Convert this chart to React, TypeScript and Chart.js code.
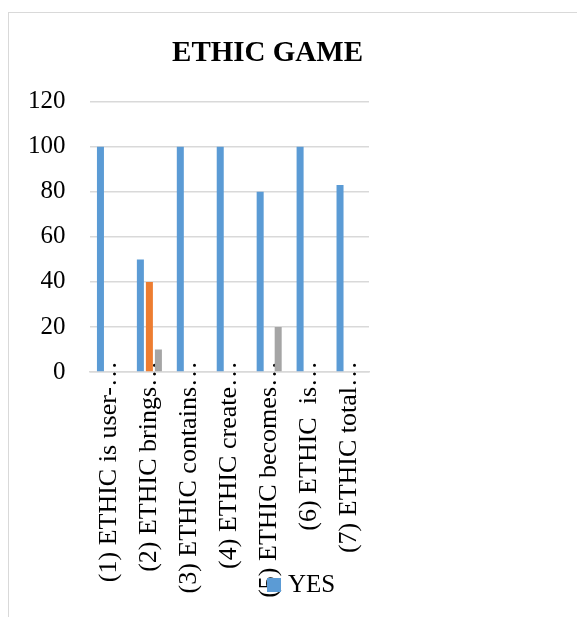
import React, { useEffect, useRef } from "react";
import { Chart, registerables } from "chart.js";

Chart.register(...registerables);

const categories = [
  "(1) ETHIC is user-…",
  "(2) ETHIC brings…",
  "(3) ETHIC contains…",
  "(4) ETHIC create…",
  "(5) ETHIC becomes…",
  "(6) ETHIC  is…",
  "(7) ETHIC total…",
];
const seriesNames = ["YES", "NO", "NOT SURE"];
const yesValues = [100, 50, 100, 100, 80, 100, 83];
const noValues = [0, 40, 0, 0, 0, 0, 0];
const notSureValues = [0, 10, 0, 0, 20, 0, 0];
const seriesColors = ["#5B9BD5", "#ED7D31", "#A5A5A5"];
const yTicks = [0, 20, 40, 60, 80, 100, 120];

const FONT = '"Liberation Serif", "Times New Roman", serif';

const excelLegend = {
  id: "excelLegend",
  afterDraw(chart: any) {
    const ds = chart.data.datasets[0];
    const ctx = chart.ctx;
    const area = chart.chartArea;
    const size = 14;
    const x = area.right - 102;
    const y = chart.height - 32;
    ctx.save();
    ctx.fillStyle = ds.backgroundColor;
    ctx.fillRect(x, y - size / 2, size, size);
    ctx.fillStyle = "#000";
    ctx.font = `25px ${FONT}`;
    ctx.textBaseline = "middle";
    ctx.textAlign = "left";
    ctx.fillText(ds.label, x + size + 7, y);
    ctx.restore();
  },
};

export default function App() {
  const ref = useRef<HTMLCanvasElement>(null);
  useEffect(() => {
    if (!ref.current) return;
    const values = [yesValues, noValues, notSureValues];
    const chart = new Chart(ref.current, {
      type: "bar",
      data: {
        labels: categories,
        datasets: seriesNames.map((name, i) => ({
          label: name,
          data: values[i],
          backgroundColor: seriesColors[i],
          borderWidth: 0,
          categoryPercentage: 0.677,
          barPercentage: 0.778,
          yAxisID: "y",
        })),
      },
      options: {
        animation: false,
        responsive: true,
        maintainAspectRatio: false,
        layout: { padding: { left: 0, right: 0, top: 0, bottom: 32 } },
        plugins: {
          legend: { display: false },
          tooltip: { enabled: false },
          title: {
            display: true,
            text: "ETHIC GAME",
            color: "#000",
            font: { family: FONT, size: 29, weight: "bold" },
            padding: { top: 23, bottom: 31 },
          },
        },
        scales: {
          x: {
            grid: { display: false, drawTicks: false },
            border: { display: true, color: "#d9d9d9", width: 1.5 },
            ticks: {
              color: "#000",
              font: { family: FONT, size: 26 },
              maxRotation: 90,
              minRotation: 90,
              autoSkip: false,
              padding: -11,
            },
            afterFit: (scale: any) => {
              scale.height = 213;
              // let tick labels extend beyond the axis box, as in the original
              scale._computeLabelArea = () => undefined;
            },
          },
          y: {
            position: "left",
            min: 0,
            max: 120,
            afterBuildTicks: (scale: any) => {
              scale.ticks = yTicks.map((v) => ({ value: v }));
            },
            grid: { color: "#d9d9d9", lineWidth: 1.5, drawTicks: false },
            border: { display: false },
            ticks: {
              color: "#000",
              font: { family: FONT, size: 25 },
              padding: 24,
            },
          },
          spacer: {
            type: "linear",
            position: "right",
            display: true,
            grid: { display: false, drawTicks: false },
            border: { display: false },
            ticks: { display: false },
            afterFit: (scale: any) => {
              scale.width = 162;
            },
          },
        },
      },
      plugins: [excelLegend],
    });
    return () => chart.destroy();
  }, []);

  return (
    <div style={{ position: "fixed", inset: 0, overflow: "hidden", background: "#fff" }}>
      <div
        style={{
          position: "absolute",
          left: 8,
          top: 12,
          width: 700,
          height: 700,
          border: "1px solid #d9d9d9",
          boxSizing: "border-box",
        }}
      />
      <div style={{ position: "absolute", left: 4, top: 13, width: 527, height: 604 }}>
        <canvas ref={ref} />
      </div>
    </div>
  );
}
